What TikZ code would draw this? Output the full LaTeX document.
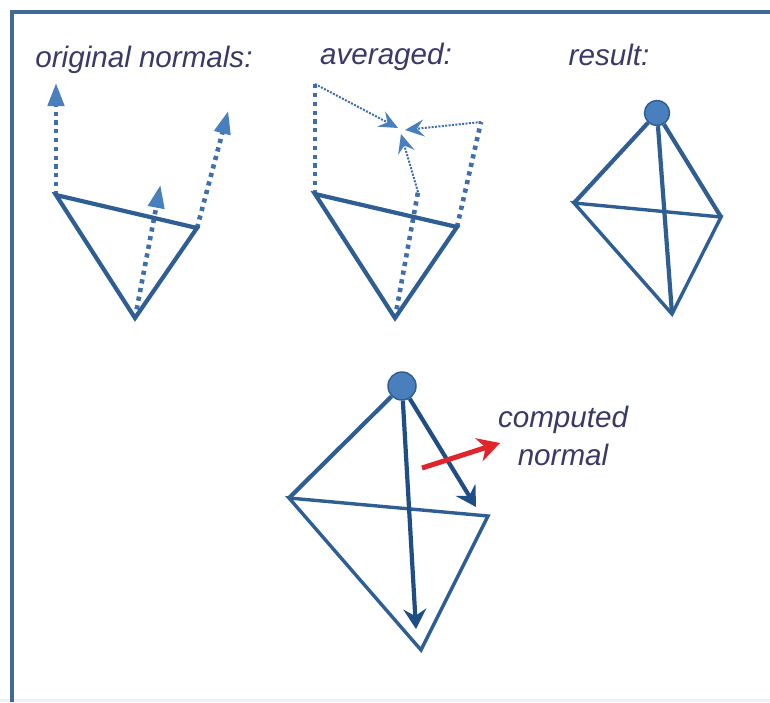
\documentclass[tikz,border=0pt]{standalone}
\usepackage{fontspec}
\setmainfont{Liberation Sans}
\usetikzlibrary{arrows.meta}
\definecolor{frameblue}{HTML}{3F6A9A}
\definecolor{edgeblue}{HTML}{2F5E92}
\definecolor{dotblue}{HTML}{3F6FA8}
\definecolor{headblue}{HTML}{4A7FBE}
\definecolor{darkblue}{HTML}{1F4E86}
\definecolor{ink}{HTML}{3A3A68}
\definecolor{strip}{HTML}{E6F4F8}
\definecolor{redarrow}{HTML}{E0242A}
\tikzset{
  label text/.style={font=\fontsize{29.6}{34}\selectfont\itshape, text=ink, inner sep=0pt},
  edge/.style={draw=edgeblue, line width=4.2pt, line join=miter},
  thinedge/.style={draw=edgeblue, line width=3.4pt, line join=miter},
  dotted normal/.style={draw=dotblue, line width=4.6pt, dash pattern=on 4.2pt off 4.6pt,
     -{Triangle[length=23pt,width=16pt,color=headblue,sep=3pt]}},
  dotted stem/.style={draw=dotblue, line width=4.6pt, dash pattern=on 4.2pt off 4.6pt},
  fine arrow/.style={draw=dotblue, line width=2pt, dash pattern=on 2pt off 1.4pt,
     -{Stealth[length=19pt,width=17pt,inset=7pt,color=headblue]}},
  dark arrow/.style={draw=darkblue, line width=4.2pt,
     -{Stealth[length=20pt,width=23pt,inset=7pt,color=darkblue]}},
  vertex/.style={circle, draw=edgeblue, line width=1.5pt, fill=headblue, inner sep=0pt},
}
\begin{document}
\begin{tikzpicture}[x=1pt,y=-1pt]
\useasboundingbox (0,0) rectangle (770,702);
\fill[white] (0,0) rectangle (770,702);
\fill[strip] (0,699) rectangle (770,702);
% frame
\coordinate (fb) at (12,702);
\coordinate (fc) at (12,12);
\coordinate (fr) at (770,12);
\draw[draw=frameblue, line width=3.8pt, line join=miter] (fb) -- (fc) -- (fr);
% labels
\node[label text] (t1) at (144,60) {original normals:};
\node[label text] (t2) at (386,57) {averaged:};
\node[label text] (t3) at (609,55) {result:};
\node[label text, align=center] (t4a) at (563,420) {computed};
\node[label text] (t4b) at (563,455) {normal};
% panel 1
\coordinate (a1) at (56,195);
\coordinate (b1) at (197,228);
\coordinate (c1) at (135,318);
\coordinate (n1a) at (56,80);
\coordinate (n1b) at (229,108);
\coordinate (n1c) at (161,182);
\draw[dotted normal] (a1) -- (n1a);
\draw[dotted normal] (b1) -- (n1b);
\draw[dotted normal] (c1) -- (n1c);
\draw[edge] (a1) -- (b1) -- (c1) -- cycle;
% panel 2
\coordinate (a2) at (315,194);
\coordinate (b2) at (457,227);
\coordinate (c2) at (395,318);
\coordinate (n2a) at (315,84);
\coordinate (n2b) at (481,122);
\coordinate (n2c) at (418,192);
\coordinate (m2a) at (398,128);
\coordinate (m2b) at (405,130);
\coordinate (m2c) at (401,134);
\draw[dotted stem] (a2) -- (n2a);
\draw[dotted stem] (b2) -- (n2b);
\draw[dotted stem] (c2) -- (n2c);
\draw[fine arrow] (n2a) -- (m2a);
\draw[fine arrow] (n2b) -- (m2b);
\draw[fine arrow] (n2c) -- (m2c);
\draw[edge] (a2) -- (b2) -- (c2) -- cycle;
% panel 3
\node[vertex, minimum size=25pt] (top3) at (657,113) {};
\coordinate (l3) at (574,203);
\coordinate (r3) at (721,217);
\coordinate (b3) at (672,314);
\draw[edge] (top3) -- (l3);
\draw[edge] (top3) -- (r3);
\draw[edge] (top3) -- (b3);
\draw[thinedge] (l3) -- (r3) -- (b3) -- cycle;
% panel 4
\node[vertex, minimum size=28pt] (top4) at (402,386) {};
\coordinate (l4) at (289,498);
\coordinate (r4) at (488,516);
\coordinate (b4) at (421,650);
\coordinate (e4a) at (476,507);
\coordinate (e4b) at (416,629);
\coordinate (rs) at (422,468);
\coordinate (re) at (500,443);
\draw[edge] (top4) -- (l4);
\draw[thinedge] (l4) -- (r4) -- (b4) -- cycle;
\draw[dark arrow] (top4) -- (e4a);
\draw[dark arrow] (top4) -- (e4b);
\draw[draw=redarrow, line width=5pt, -{Stealth[length=22pt,width=24pt,inset=7pt,color=redarrow]}] (rs) -- (re);
\end{tikzpicture}
\end{document}
